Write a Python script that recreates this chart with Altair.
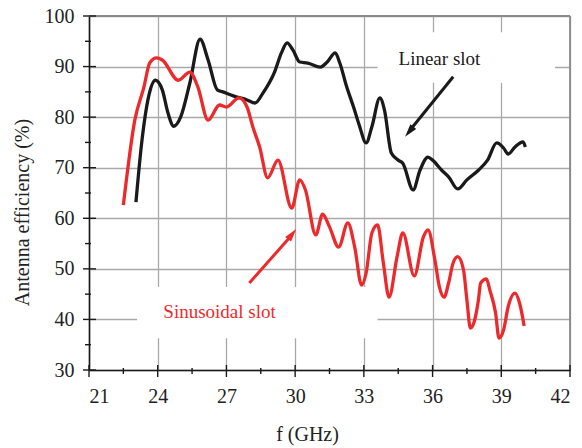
import altair as alt
import pandas as pd

# ---- data ----
linear_f = [23.05, 23.3, 23.6, 23.9, 24.2, 24.45, 24.7, 25.0, 25.4, 25.85, 26.2, 26.6, 26.85, 27.3,
            27.9, 28.25, 28.6, 29.1, 29.4, 29.65, 29.9, 30.2, 30.55, 31.1, 31.4, 31.75, 31.95, 32.25,
            32.55, 32.8, 33.1, 33.35, 33.7, 33.9, 34.2, 34.5, 34.7, 35.15, 35.45, 35.8, 36.0, 36.4,
            36.7, 37.1, 37.5, 38.0, 38.4, 38.8, 39.1, 39.3, 39.6, 39.95, 40.05]
linear_eff = [63.2, 74.9, 84.0, 87.3, 85.4, 80.8, 78.2, 80.0, 86.7, 95.4, 91.3, 85.4, 85.0, 84.2,
              83.4, 82.8, 84.8, 88.9, 92.7, 94.7, 93.3, 90.9, 90.7, 89.9, 90.9, 92.7, 90.7, 86.0,
              82.0, 78.4, 74.9, 78.1, 83.8, 81.4, 72.9, 71.5, 70.9, 65.6, 69.5, 72.1, 71.5, 69.5,
              68.2, 65.8, 67.6, 69.5, 71.5, 74.9, 73.9, 72.7, 74.1, 75.1, 74.1]

sinus_f = [22.5, 23.0, 23.4, 23.65, 23.95, 24.2, 24.9, 25.4, 25.75, 26.2, 26.7, 27.0, 27.55, 27.9,
           28.15, 28.45, 28.8, 29.25, 29.85, 30.2, 30.45, 30.9, 31.2, 31.5, 31.9, 32.3, 32.6, 32.9,
           33.1, 33.35, 33.6, 33.85, 34.1, 34.45, 34.7, 35.2, 35.6, 35.8, 36.1, 36.3, 36.5, 36.7,
           36.9, 37.1, 37.35, 37.5, 37.65, 37.8, 38.0, 38.1, 38.35, 38.5, 38.75, 38.9, 39.1, 39.3,
           39.6, 39.8, 40.0]
sinus_eff = [62.6, 79.4, 86.0, 90.7, 91.7, 91.3, 87.3, 88.9, 86.0, 79.4, 82.4, 82.0, 83.8, 82.0,
             78.1, 74.1, 68.0, 71.5, 62.0, 67.6, 65.6, 56.7, 60.8, 58.3, 54.3, 59.1, 54.3, 46.8,
             49.2, 57.1, 58.7, 51.2, 44.4, 52.4, 57.1, 48.6, 56.3, 57.7, 51.8, 46.4, 44.4, 47.2,
             51.2, 52.4, 49.8, 43.8, 38.3, 39.3, 43.8, 47.2, 48.0, 45.8, 41.3, 36.3, 37.9, 42.5,
             45.2, 43.2, 38.7]

x_major = [21, 24, 27, 30, 33, 36, 39, 42]
x_minor = [22.5, 25.5, 28.5, 31.5, 34.5, 37.5, 40.5]
y_major = [30, 40, 50, 60, 70, 80, 90, 100]
y_minor = [35, 45, 55, 65, 75, 85, 95]

labels = ["Linear slot", "Sinusoidal slot"]

# ---- styling ----
W, H = 481, 354
FONT = "Liberation Serif"
BLACK = "#1a1a1a"
RED = "#ec2a2c"
GRID = "#a9a9a9"

xs = alt.Scale(domain=[21, 42], nice=False, zero=False)
ys = alt.Scale(domain=[30, 100], nice=False, zero=False)

x_axis = alt.Axis(values=x_major, title="f (GHz)", grid=True, gridColor=GRID, gridWidth=1.3,
                  ticks=False, domainColor=BLACK, domainWidth=1.6, labelFont=FONT,
                  labelFontSize=20, labelColor="#222", labelPadding=16,
                  titleFont=FONT, titleFontSize=20, titleFontWeight="normal", titleColor="#222",
                  titleX=218, titleY=70, titleBaseline="alphabetic")
y_axis = alt.Axis(values=y_major, title="Antenna efficiency (%)", grid=True, gridColor=GRID,
                  gridWidth=1.3, ticks=False, domainColor=BLACK, domainWidth=1.6,
                  labelFont=FONT, labelFontSize=20, labelColor="#222", labelPadding=15,
                  titleFont=FONT, titleFontSize=20, titleFontWeight="normal", titleColor="#222",
                  titleX=-67, titleY=196, titleAngle=-90, titleBaseline="middle", titleAlign="center")


def X(field):
    return alt.X(field, type="quantitative", scale=xs, axis=x_axis)


def Y(field):
    return alt.Y(field, type="quantitative", scale=ys, axis=y_axis)


df_lin = pd.DataFrame({"f": linear_f, "eff": linear_eff})
df_sin = pd.DataFrame({"f": sinus_f, "eff": sinus_eff})

lin_line = alt.Chart(df_lin).mark_line(color=BLACK, strokeWidth=3.3, interpolate="monotone").encode(
    x=X("f"), y=Y("eff"))
sin_line = alt.Chart(df_sin).mark_line(color=RED, strokeWidth=3.3, interpolate="monotone").encode(
    x=X("f"), y=Y("eff"))

# white boxes behind the labels (hide grid)
boxes = pd.DataFrame({"x1": [33.6, 23.1], "x2": [41.35, 33.6], "y1": [86.8, 36.3], "y2": [96.8, 46.4]})
box_layer = alt.Chart(boxes).mark_rect(color="white").encode(
    x=X("x1"), x2="x2:Q", y=Y("y1"), y2="y2:Q")

# plot frame: top and right borders
frame = pd.DataFrame({"x1": [21, 42], "x2": [42, 42], "y1": [100, 30], "y2": [100, 100]})
frame_layer = alt.Chart(frame).mark_rule(color="#8a8a8a", strokeWidth=1.8).encode(
    x=X("x1"), x2="x2:Q", y=Y("y1"), y2="y2:Q")


# ticks crossing the axes
def xticks(vals, a, b):
    return alt.Chart(pd.DataFrame({"t": vals})).mark_rule(color=BLACK, strokeWidth=1.4).encode(
        x=X("t"), y=alt.value(H - a), y2=alt.value(H + b))


def yticks(vals, a, b):
    return alt.Chart(pd.DataFrame({"t": vals})).mark_rule(color=BLACK, strokeWidth=1.4).encode(
        y=Y("t"), x=alt.value(-a), x2=alt.value(b))


tick_layers = [xticks(x_major, 5, 7), xticks(x_minor, 2, 4), yticks(y_major, 6, 7), yticks(y_minor, 4, 2)]

# annotations
ann = pd.DataFrame({"label": labels, "f": [36.3, 26.7], "eff": [91.4, 41.4], "c": [BLACK, RED]})
text_layer = alt.Chart(ann).mark_text(font=FONT, fontSize=19, baseline="middle", align="center").encode(
    x=X("f"), y=Y("eff"), text="label:N", color=alt.Color("c:N", scale=None))

arrows = pd.DataFrame({"fx": [36.9, 28.0], "ex": [35.1, 29.8], "fy": [88.0, 47.2], "ey": [77.9, 56.4],
                       "tx": [34.8, 30.05], "ty": [76.1, 57.9], "ang": [218.7, 38.3], "c": [BLACK, RED]})
arrow_shaft = alt.Chart(arrows).mark_rule(strokeWidth=3).encode(
    x=X("fx"), x2="ex:Q", y=Y("fy"), y2="ey:Q", color=alt.Color("c:N", scale=None))
arrow_head = alt.Chart(arrows).mark_point(filled=True, shape="M0,0 L0.5,1.75 L-0.5,1.75 Z",
                                          size=225, opacity=1, strokeWidth=0).encode(
    x=X("tx"), y=Y("ty"), angle=alt.Angle("ang:Q", scale=None), color=alt.Color("c:N", scale=None))

chart = alt.layer(
    box_layer, lin_line, sin_line, frame_layer, *tick_layers, arrow_shaft, arrow_head, text_layer
).properties(
    width=W, height=H,
    autosize=alt.AutoSizeParams(type="none"),
    padding={"left": 81, "top": 8, "right": 4, "bottom": 76},
).configure_view(stroke=None).configure(background="white")

chart.save("out.html", embed_options={"renderer": "svg", "actions": False})
